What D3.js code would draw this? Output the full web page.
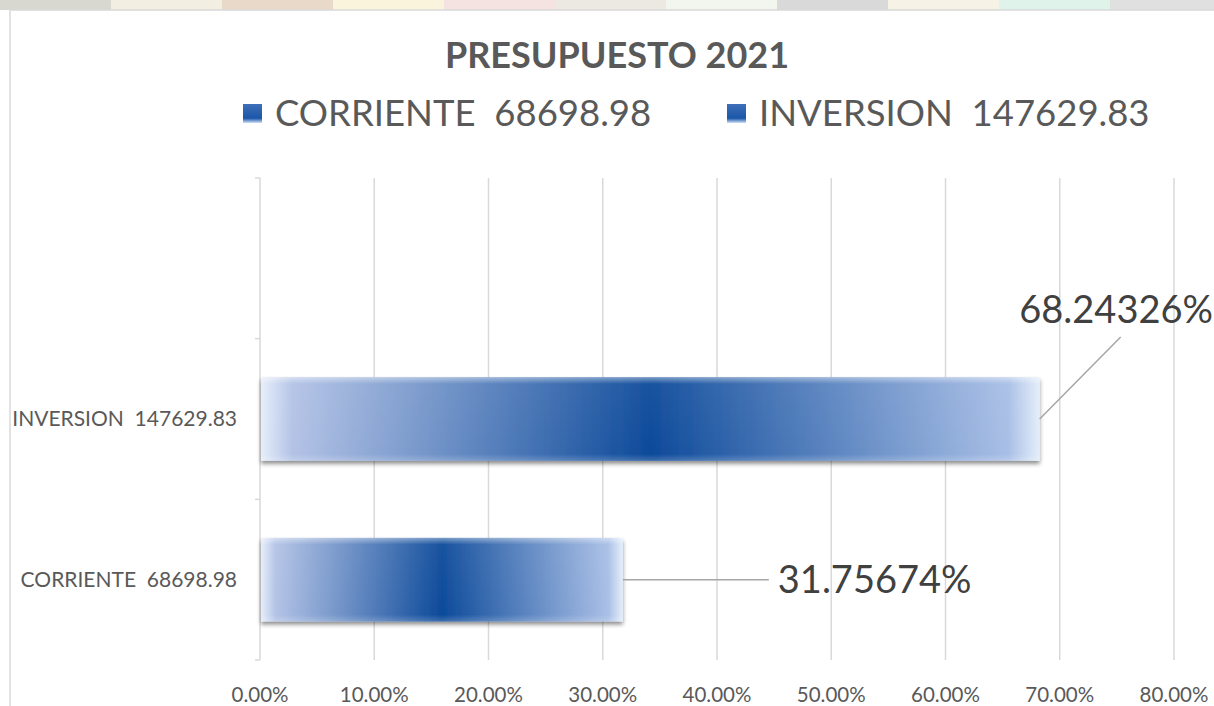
<!DOCTYPE html>
<html>
<head>
<meta charset="utf-8">
<script src="https://cdn.jsdelivr.net/npm/d3@7"></script>
<style>
  body { margin: 0; background: #fff; }
  svg { display: block; font-family: Lato, 'Open Sans', sans-serif; }
  text { white-space: pre; }
</style>
</head>
<body>
<svg width="1214" height="706"></svg>
<script>
var svg = d3.select('svg');

// Chart data
var categories = ['CORRIENTE  68698.98', 'INVERSION  147629.83', ''];
var shares = [0.3175674, 0.6824326, null];
var shareLabels = ['31.75674%', '68.24326%'];
var tickValues = [0, 0.1, 0.2, 0.3, 0.4, 0.5, 0.6, 0.7, 0.8];
var legendItems = ['CORRIENTE  68698.98', 'INVERSION  147629.83'];
var title = 'PRESUPUESTO 2021';

var padding = {t: 178, r: 40, b: 46, l: 260};
var chartWidth = 1174 - padding.l;
var chartHeight = 660 - padding.t;

// faint background strip above the chart frame
var strip = svg.append('g');
var stripColors = ['#d8d8d0', '#f2efe2', '#e8d9c8', '#fbf4dc', '#f4e3e0', '#ece8e2', '#f2f6ee', '#d9d9d9', '#f6f3e6', '#dff3ea', '#e0e0e0'];
stripColors.forEach(function(c, i) {
    strip.append('rect').attr('x', i * 111).attr('y', 0).attr('width', 111).attr('height', 10).attr('fill', c);
});
svg.append('rect').attr('x', 10).attr('y', 10).attr('width', 1214).attr('height', 706)
    .attr('fill', '#fff').attr('stroke', '#d9d9d9').attr('stroke-width', 1.5);

var defs = svg.append('defs');
var grad = defs.append('linearGradient').attr('id', 'barGrad')
    .attr('x1', '0%').attr('x2', '100%').attr('y1', '0%').attr('y2', '0%');
grad.append('stop').attr('offset', '0%').attr('stop-color', '#e6eefb');
grad.append('stop').attr('offset', '4%').attr('stop-color', '#b3c3e6');
grad.append('stop').attr('offset', '50%').attr('stop-color', '#0d4a9a');
grad.append('stop').attr('offset', '96%').attr('stop-color', '#a9bfe6');
grad.append('stop').attr('offset', '100%').attr('stop-color', '#e4eefa');

var vgrad = defs.append('linearGradient').attr('id', 'barShine')
    .attr('x1', '0%').attr('x2', '0%').attr('y1', '0%').attr('y2', '100%');
vgrad.append('stop').attr('offset', '0%').attr('stop-color', '#fff').attr('stop-opacity', 0.45);
vgrad.append('stop').attr('offset', '8%').attr('stop-color', '#fff').attr('stop-opacity', 0.05);
vgrad.append('stop').attr('offset', '92%').attr('stop-color', '#fff').attr('stop-opacity', 0);
vgrad.append('stop').attr('offset', '100%').attr('stop-color', '#fff').attr('stop-opacity', 0.2);

var legGrad = defs.append('linearGradient').attr('id', 'legGrad')
    .attr('x1', '0%').attr('x2', '0%').attr('y1', '0%').attr('y2', '100%');
legGrad.append('stop').attr('offset', '0%').attr('stop-color', '#3f6fb8');
legGrad.append('stop').attr('offset', '75%').attr('stop-color', '#1a56a8');
legGrad.append('stop').attr('offset', '100%').attr('stop-color', '#cfe0f6');

var shadow = defs.append('filter').attr('id', 'shadow')
    .attr('x', '-5%').attr('y', '-10%').attr('width', '110%').attr('height', '130%');
shadow.append('feDropShadow').attr('dx', 0).attr('dy', 3).attr('stdDeviation', 2)
    .attr('flood-color', '#000').attr('flood-opacity', 0.45);

var chartG = svg.append('g')
    .attr('transform', 'translate(' + [padding.l, padding.t] + ')');

var x = d3.scaleLinear().domain([0, 0.8]).range([0, chartWidth]);
var y = d3.scaleBand().domain(categories.slice().reverse()).range([0, chartHeight]).paddingInner(0.48).paddingOuter(0.24);
var yBands = d3.scaleBand().domain(categories.slice().reverse()).range([0, chartHeight]);

// Gridlines
chartG.selectAll('.grid').data(tickValues.slice(1)).enter().append('line')
    .attr('x1', function(d){ return x(d); }).attr('x2', function(d){ return x(d); })
    .attr('y1', 0).attr('y2', chartHeight)
    .attr('stroke', '#d9d9d9').attr('stroke-width', 1.5);

// x tick labels
chartG.selectAll('.xlab').data(tickValues).enter().append('text')
    .attr('x', function(d){ return x(d); })
    .attr('y', chartHeight + 42)
    .attr('text-anchor', 'middle')
    .attr('font-size', 20.5)
    .attr('fill', '#595959')
    .text(function(d){ return d3.format('.2%')(d); });

// y axis line and ticks
chartG.append('line').attr('x1', 0).attr('x2', 0).attr('y1', 0).attr('y2', chartHeight)
    .attr('stroke', '#d9d9d9').attr('stroke-width', 1.5);
var yTicks = [0].concat(yBands.domain().map(function(d){ return yBands(d) + yBands.bandwidth(); }));
chartG.selectAll('.ytick').data(yTicks).enter().append('line')
    .attr('x1', -5).attr('x2', 0)
    .attr('y1', function(d){ return d; }).attr('y2', function(d){ return d; })
    .attr('stroke', '#d9d9d9').attr('stroke-width', 1.5);

// category labels
chartG.selectAll('.ylab').data(categories).enter().append('text')
    .attr('x', -23)
    .attr('y', function(d){ return y(d) + y.bandwidth() / 2; })
    .attr('dy', '0.35em')
    .attr('text-anchor', 'end')
    .attr('font-size', 21)
    .attr('fill', '#595959')
    .text(function(d){ return d; });

// bars
var barData = categories.map(function(c, i){ return {cat: c, v: shares[i], label: shareLabels[i]}; })
    .filter(function(d){ return d.v != null; });
var bars = chartG.selectAll('.bar').data(barData).enter().append('g').attr('class', 'bar');
bars.append('rect')
    .attr('x', 1).attr('y', function(d){ return y(d.cat); })
    .attr('width', function(d){ return x(d.v) - 1; })
    .attr('height', y.bandwidth())
    .attr('fill', 'url(#barGrad)')
    .attr('filter', 'url(#shadow)');
bars.append('rect')
    .attr('x', 1).attr('y', function(d){ return y(d.cat); })
    .attr('width', function(d){ return x(d.v) - 1; })
    .attr('height', y.bandwidth())
    .attr('fill', 'url(#barShine)');

// data labels with leader lines
var labelPos = [{dx: 146, dy: 0}, {dx: 81, dy: -82}];
bars.each(function(d, i) {
    var g = d3.select(this);
    var x0 = x(d.v), y0 = y(d.cat) + y.bandwidth() / 2;
    var p = labelPos[i];
    g.append('line')
        .attr('x1', x0).attr('y1', y0)
        .attr('x2', x0 + p.dx).attr('y2', y0 + p.dy)
        .attr('stroke', '#a6a6a6').attr('stroke-width', 1.5);
    g.append('text')
        .attr('x', i === 0 ? x0 + p.dx + 9 : 1213 - padding.l)
        .attr('y', i === 0 ? y0 : y0 + p.dy - 14)
        .attr('dy', i === 0 ? '0.35em' : '0')
        .attr('text-anchor', i === 0 ? 'start' : 'end')
        .attr('font-size', 38)
        .attr('fill', '#404040')
        .text(d.label);
});

// title
svg.append('text')
    .attr('x', 617).attr('y', 68)
    .attr('text-anchor', 'middle')
    .attr('font-size', 36)
    .attr('font-weight', 'bold')
    .attr('fill', '#595959')
    .text(title);

// legend
var legendX = [243, 727];
var legend = svg.selectAll('.legend').data(legendItems).enter().append('g')
    .attr('transform', function(d, i){ return 'translate(' + [legendX[i], 110] + ')'; });
legend.append('rect')
    .attr('x', 0).attr('y', -6).attr('width', 19).attr('height', 19)
    .attr('fill', 'url(#legGrad)');
legend.append('text')
    .attr('x', 32).attr('y', 3)
    .attr('dy', '0.35em')
    .attr('font-size', 36.5)
    .attr('fill', '#595959')
    .text(function(d){ return d; });
</script>
</body>
</html>
